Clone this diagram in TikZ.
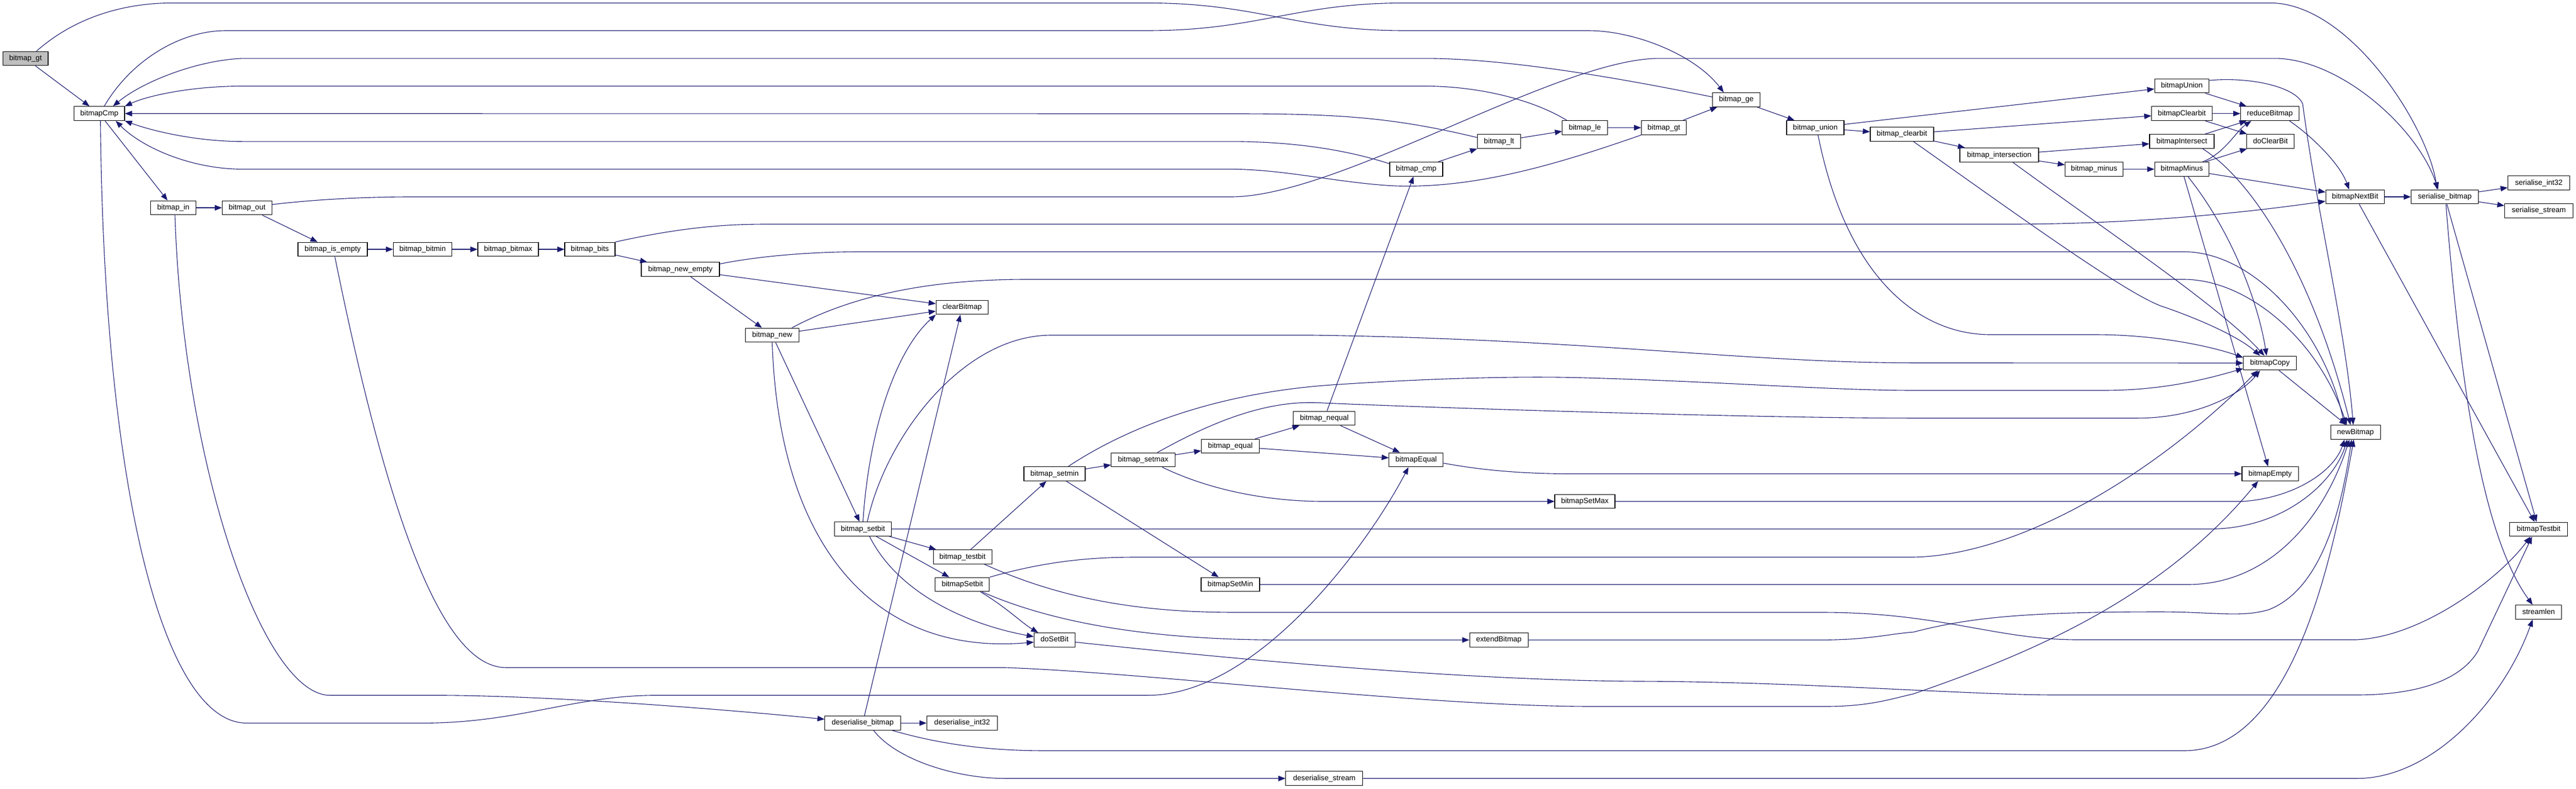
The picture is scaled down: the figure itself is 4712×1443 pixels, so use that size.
\documentclass[tikz,border=0pt]{standalone}
\usepackage{fontspec}
\setmainfont{Liberation Sans}
\usetikzlibrary{arrows.meta}
\definecolor{edgec}{HTML}{191970}
\definecolor{rootfill}{HTML}{BFBFBF}
\begin{document}
\begin{tikzpicture}[x=1pt,y=-1pt,
  fn/.style={draw=black, fill=white, line width=1.1pt, inner sep=0pt, minimum height=25.8pt, text height=10pt, text depth=3pt, font=\fontsize{13.6pt}{16pt}\selectfont},
  cedge/.style={draw=edgec, line width=1.1pt, -{Triangle[length=13pt,width=10pt]}}]
\useasboundingbox (0,0) rectangle (4712,1443);
% nodes
\node[fn, minimum width=82.6pt, fill=rootfill] (gtroot) at (46.7,107) {bitmap\_gt};
\node[fn, minimum width=92.5pt] (cmp) at (181.7,207.7) {bitmapCmp};
\node[fn, minimum width=82.7pt] (bin) at (317,380) {bitmap\_in};
\node[fn, minimum width=91pt] (bout) at (452,380) {bitmap\_out};
\node[fn, minimum width=127pt] (isempty) at (608.5,456) {bitmap\_is\_empty};
\node[fn, minimum width=107pt] (bitmin) at (773,456) {bitmap\_bitmin};
\node[fn, minimum width=111pt] (bitmax) at (929.5,456) {bitmap\_bitmax};
\node[fn, minimum width=92pt] (bits) at (1079,456) {bitmap\_bits};
\node[fn, minimum width=143pt] (newempty) at (1244.5,492.7) {bitmap\_new\_empty};
\node[fn, minimum width=95.5pt] (clearbm) at (1760,562) {clearBitmap};
\node[fn, minimum width=98pt] (bnew) at (1412.5,613) {bitmap\_new};
\node[fn, minimum width=104pt] (setbit) at (1578.5,967.5) {bitmap\_setbit};
\node[fn, minimum width=107pt] (testbit) at (1760.6,1018.5) {bitmap\_testbit};
\node[fn, minimum width=99pt] (bmSetbit) at (1760.4,1069) {bitmapSetbit};
\node[fn, minimum width=75pt] (dosetbit) at (1929,1170.4) {doSetBit};
\node[fn, minimum width=112pt] (setmin) at (1929,866.5) {bitmap\_setmin};
\node[fn, minimum width=116.5pt] (setmax) at (2091,841) {bitmap\_setmax};
\node[fn, minimum width=105.6pt] (equal) at (2250.5,816) {bitmap\_equal};
\node[fn, minimum width=107pt] (bmSetMin) at (2250.5,1069) {bitmapSetMin};
\node[fn, minimum width=138.4pt] (deser) at (1578,1322.4) {deserialise\_bitmap};
\node[fn, minimum width=129.4pt] (deserint) at (1760,1322.4) {deserialise\_int32};
\node[fn, minimum width=113pt] (nequal) at (2422.4,765) {bitmap\_nequal};
\node[fn, minimum width=99pt] (bmEqual) at (2590.4,841) {bitmapEqual};
\node[fn, minimum width=110pt] (bmSetMax) at (2899,917) {bitmapSetMax};
\node[fn, minimum width=107pt] (extend) at (2741.6,1170.4) {extendBitmap};
\node[fn, minimum width=141pt] (deserstream) at (2422.4,1423.7) {deserialise\_stream};
\node[fn, minimum width=86.5pt] (ge) at (3176,182.4) {bitmap\_ge};
\node[fn, minimum width=82.5pt] (le) at (2899,233.5) {bitmap\_le};
\node[fn, minimum width=82pt] (gt2) at (3043.5,233.5) {bitmap\_gt};
\node[fn, minimum width=79pt] (lt) at (2742,258.5) {bitmap\_lt};
\node[fn, minimum width=97pt] (bcmp) at (2590.5,309.4) {bitmap\_cmp};
\node[fn, minimum width=105pt] (union) at (3320.5,233.5) {bitmap\_union};
\node[fn, minimum width=116pt] (clearbit) at (3479,245.4) {bitmap\_clearbit};
\node[fn, minimum width=99.6pt] (bmUnion) at (3991,157) {bitmapUnion};
\node[fn, minimum width=110.5pt] (bmClearbit) at (3991,207.7) {bitmapClearbit};
\node[fn, minimum width=106.7pt] (reduce) at (4152,207.7) {reduceBitmap};
\node[fn, minimum width=118pt] (bmIntersect) at (3991,258.5) {bitmapIntersect};
\node[fn, minimum width=87.5pt] (doclear) at (4153,258.5) {doClearBit};
\node[fn, minimum width=144pt] (intersection) at (3657,283.6) {bitmap\_intersection};
\node[fn, minimum width=106pt] (minus) at (3830.5,309.4) {bitmap\_minus};
\node[fn, minimum width=99.6pt] (bmMinus) at (3991,309.4) {bitmapMinus};
\node[fn, minimum width=107.6pt] (nextbit) at (4308,360) {bitmapNextBit};
\node[fn, minimum width=123pt] (serbm) at (4472,360) {serialise\_bitmap};
\node[fn, minimum width=113pt] (serint) at (4644,334.8) {serialise\_int32};
\node[fn, minimum width=125pt] (serstream) at (4644,385.4) {serialise\_stream};
\node[fn, minimum width=96.6pt] (bmCopy) at (4152,664) {bitmapCopy};
\node[fn, minimum width=91pt] (newbm) at (4308.5,790.5) {newBitmap};
\node[fn, minimum width=103pt] (bmEmpty) at (4152.5,866.5) {bitmapEmpty};
\node[fn, minimum width=106pt] (bmTestbit) at (4643.6,968) {bitmapTestbit};
\node[fn, minimum width=84pt] (streamlen) at (4643.6,1119.5) {streamlen};
% edges
\draw[cedge] (gtroot) -- (cmp);
\draw[cedge] ([xshift=20pt]gtroot.north) .. controls (150,20) and (250,5.5) .. (314,5.5) -- (2099,5.5) .. controls (2300,5.5) and (2370,56) .. (2568,56) -- (2905,56) .. controls (2990,56) and (3100,100) .. ([xshift=-23pt]ge.north);
\draw[cedge] ([xshift=9pt]cmp.north) .. controls (240,110) and (330,56) .. (413,56) -- (2099,56) .. controls (2300,56) and (2370,5.5) .. (2568,5.5) -- (4157,5.5) .. controls (4300,10) and (4440,230) .. ([xshift=-14pt]serbm.north);
\draw[cedge] ([yshift=5pt]ge.west) .. controls (2950,140) and (2750,106.8) .. (2606,106.8) -- (444,106.8) .. controls (360,110) and (260,150) .. ([xshift=25pt]cmp.north);
\draw[cedge] ([xshift=-33pt]le.north) .. controls (2800,180) and (2700,157.5) .. (2606,157.5) -- (444,157.5) .. controls (350,157.5) and (270,175) .. (cmp.north east);
\draw[cedge] ([yshift=7pt]lt.west) .. controls (2550,215) and (2450,208) .. (2260,208) -- (cmp.east);
\draw[cedge] ([yshift=10pt]bcmp.west) .. controls (2450,270) and (2350,258.8) .. (2250,258.8) -- (444,258.8) .. controls (360,258.8) and (280,240) .. (cmp.south east);
\draw[cedge] (gt2.south west) .. controls (2850,300) and (2700,345) .. (2552,340) .. controls (2450,335) and (2350,309.4) .. (2250,309.4) -- (444,309.4) .. controls (350,309.4) and (260,270) .. ([xshift=30pt]cmp.south);
\draw[cedge] (cmp) -- (bin);
\draw[cedge] (bin) -- (bout);
\draw[cedge] (bout) -- (isempty);
\draw[cedge] ([yshift=6pt]bout.east) .. controls (600,362) and (700,360) .. (750,360) -- (2252,360) .. controls (2450,360) and (2850,106.8) .. (3035,106.8) -- (4165,106.8) .. controls (4280,110) and (4420,230) .. ([xshift=-12pt]serbm.north);
\draw[cedge] (isempty) -- (bitmin);
\draw[cedge] (bitmin) -- (bitmax);
\draw[cedge] (bitmax) -- (bits);
\draw[cedge] (bits.north east) .. controls (1250,415) and (1330,410) .. (1402,410) -- (3678,410) .. controls (3900,410) and (4100,390) .. ([yshift=-8pt]nextbit.west);
\draw[cedge] (bits) -- (newempty);
\draw[cedge] (newempty) -- (clearbm);
\draw[cedge] (newempty) -- (bnew);
\draw[cedge] ([yshift=10pt]newempty.east) .. controls (1400,466) and (1500,460.5) .. (1571,460.5) -- (3995,460.5) .. controls (4120,460.5) and (4250,600) .. ([xshift=-20pt]newbm.north);
\draw[cedge] (bnew) -- (clearbm);
\draw[cedge] ([xshift=36pt]bnew.north) .. controls (1560,540) and (1700,511) .. (1877,511) -- (3995,511) .. controls (4110,511) and (4240,620) .. ([xshift=-16pt]newbm.north);
\draw[cedge] (bnew) -- (setbit);
\draw[cedge] (bnew.south) .. controls (1425,1000) and (1600,1200) .. ([yshift=-4pt]dosetbit.west);
\draw[cedge] (setbit.north) .. controls (1590,780) and (1640,640) .. (clearbm.south west);
\draw[cedge] ([xshift=8pt]setbit.north) .. controls (1620,800) and (1760,613) .. (1923,613) -- (2400,613) .. controls (2900,620) and (3200,663.7) .. (3500,663.7) -- (bmCopy.west);
\draw[cedge] (setbit.east) -- (4041,967.5) .. controls (4180,967.5) and (4270,880) .. ([xshift=-15pt]newbm.south);
\draw[cedge] (setbit) -- (testbit);
\draw[cedge] (setbit) -- (bmSetbit);
\draw[cedge] ([xshift=12pt]setbit.south) .. controls (1640,1080) and (1760,1140) .. ([yshift=6pt]dosetbit.west);
\draw[cedge] (testbit) -- (setmin);
\draw[cedge] ([xshift=40pt]testbit.south) .. controls (1950,1100) and (2100,1120) .. (2260,1120) -- (3333,1120) .. controls (3550,1120) and (3650,1170) .. (3800,1170) -- (4310,1170) .. controls (4430,1165) and (4570,1060) .. ([xshift=-15pt]bmTestbit.south);
\draw[cedge] ([xshift=50pt]bmSetbit.north) .. controls (1900,1030) and (1980,1019) .. (2076,1019) -- (3500,1019) .. controls (3700,1015) and (3950,860) .. ([xshift=-22pt]bmCopy.south);
\draw[cedge] ([xshift=33pt]bmSetbit.south) .. controls (1840,1110) and (1870,1140) .. ([xshift=-30pt]dosetbit.north);
\draw[cedge] ([xshift=36pt]bmSetbit.south) .. controls (1950,1150) and (2150,1170.4) .. (2344,1170.4) -- (extend.west);
\draw[cedge] ([yshift=-4pt]dosetbit.east) .. controls (2300,1210) and (2700,1245) .. (3000,1246) .. controls (3300,1247) and (3600,1271) .. (3760,1271) -- (4310,1271) .. controls (4450,1271) and (4510,1230) .. (4533,1190) -- ([xshift=-12pt]bmTestbit.south);
\draw[cedge] ([xshift=3pt]bin.south) .. controls (335,850) and (480,1271.7) .. (604,1271.7) -- (800,1271.7) .. controls (1000,1272) and (1300,1295) .. ([yshift=7pt]deser.west);
\draw[cedge] ([xshift=2pt]cmp.south) .. controls (190,900) and (300,1322.4) .. (451,1322.4) -- (773,1322.4) .. controls (950,1322.4) and (1050,1271.7) .. (1200,1271.7) -- (2099,1271.7) .. controls (2300,1271.7) and (2500,1000) .. ([xshift=-14pt]bmEqual.south);
\draw[cedge] ([xshift=4pt]isempty.south) .. controls (720,1000) and (820,1221) .. (926,1221) -- (1839,1221) .. controls (2100,1230) and (2600,1292) .. (2912,1292) -- (3340,1292) .. controls (3420,1292) and (3460,1278) .. (3500,1269) .. controls (3700,1200) and (3950,1100) .. ([xshift=-22pt]bmEmpty.south);
\draw[cedge] (deser) -- (deserint);
\draw[cedge] ([xshift=54pt]deser.south) .. controls (1750,1370) and (1850,1373) .. (1915,1373) -- (3995,1373) .. controls (4200,1373) and (4270,1000) .. ([xshift=-3pt]newbm.south);
\draw[cedge] ([xshift=20pt]deser.south) .. controls (1640,1390) and (1750,1423.7) .. (1839,1423.7) -- (deserstream.west);
\draw[cedge] (deserstream.east) -- (4311,1423.7) .. controls (4450,1423.7) and (4580,1280) .. ([xshift=-11pt]streamlen.south);
\draw[cedge] (deser) -- (clearbm);
\draw[cedge] (setmin) -- (setmax);
\draw[cedge] (setmin) -- (bmSetMin);
\draw[cedge] ([xshift=25pt]setmin.north) .. controls (2080,770) and (2250,715) .. (2450,703) .. controls (2650,690) and (2800,688) .. (2900,691) .. controls (3150,698) and (3350,714) .. (3500,714) -- (3848,714) .. controls (3960,714) and (4040,692) .. ([yshift=-10pt]bmCopy.west);
\draw[cedge] ([xshift=26pt]setmax.north) .. controls (2220,770) and (2320,730) .. (2420,737) .. controls (2600,745) and (3200,764.7) .. (3500,764.7) -- (3910,764.7) .. controls (4020,764.7) and (4100,720) .. ([xshift=-18pt]bmCopy.south);
\draw[cedge] (setmax) -- (equal);
\draw[cedge] ([xshift=35pt]setmax.south) .. controls (2220,900) and (2330,917) .. (2420,917) -- (bmSetMax.west);
\draw[cedge] (equal) -- (nequal);
\draw[cedge] (equal) -- (bmEqual);
\draw[cedge] (nequal) -- (bmEqual);
\draw[cedge] (nequal) -- (bcmp);
\draw[cedge] ([yshift=-6pt]bmEqual.east) .. controls (2720,862) and (2800,866.5) .. (2874,866.5) -- (bmEmpty.west);
\draw[cedge] (bmSetMax.east) -- (4103,917) .. controls (4200,910) and (4270,860) .. ([xshift=-20pt]newbm.south);
\draw[cedge] (bmSetMin.east) -- (4002,1069) .. controls (4150,1069) and (4250,950) .. ([xshift=-11pt]newbm.south);
\draw[cedge] (extend.east) -- (3333,1170.4) .. controls (3420,1170) and (3450,1160) .. (3500,1156) .. controls (3600,1130) and (3700,1119) .. (3950,1119) .. controls (4050,1119) and (4100,1130) .. (4150,1115) .. controls (4240,1080) and (4280,950) .. ([xshift=-7pt]newbm.south);
\draw[cedge] (bcmp) -- (lt);
\draw[cedge] (lt) -- (le);
\draw[cedge] (le) -- (gt2);
\draw[cedge] (gt2) -- (ge);
\draw[cedge] (ge) -- (union);
\draw[cedge] (union) -- (clearbit);
\draw[cedge] (clearbit) -- (intersection);
\draw[cedge] (intersection) -- (minus);
\draw[cedge] (minus) -- (bmMinus);
\draw[cedge] (union) -- (bmUnion);
\draw[cedge] (clearbit) -- (bmClearbit);
\draw[cedge] (intersection) -- (bmIntersect);
\draw[cedge] ([xshift=5pt]union.south) .. controls (3380,520) and (3520,612) .. (3640,612) -- (3832,612) .. controls (3950,612) and (4050,635) .. ([yshift=10pt]bmCopy.west);
\draw[cedge] ([xshift=21pt]clearbit.south) .. controls (3700,400) and (3900,545) .. (3960,562) .. controls (4040,590) and (4100,620) .. ([xshift=-18pt]bmCopy.north);
\draw[cedge] ([xshift=25pt]intersection.south) .. controls (3850,420) and (4060,560) .. ([xshift=-10pt]bmCopy.north);
\draw[cedge] (bmUnion) -- (reduce);
\draw[cedge] ([yshift=10pt]bmUnion.east) .. controls (4120,140) and (4200,160) .. (4212,190) .. controls (4240,400) and (4290,600) .. ([xshift=-4pt]newbm.north);
\draw[cedge] (bmClearbit) -- (reduce);
\draw[cedge] (bmClearbit) -- (doclear);
\draw[cedge] (bmIntersect) -- (reduce);
\draw[cedge] ([xshift=38pt]bmIntersect.south) .. controls (4120,330) and (4230,500) .. ([xshift=-9pt]newbm.north);
\draw[cedge] ([xshift=38pt]bmMinus.north) .. controls (4070,280) and (4090,240) .. ([xshift=-34pt]reduce.south);
\draw[cedge] (bmMinus) -- (doclear);
\draw[cedge] (bmMinus) -- (nextbit);
\draw[cedge] ([xshift=11pt]bmMinus.south) .. controls (4080,420) and (4130,550) .. ([xshift=-6pt]bmCopy.north);
\draw[cedge] (bmMinus) -- (bmEmpty);
\draw[cedge] ([xshift=36pt]reduce.south) .. controls (4230,250) and (4280,300) .. ([xshift=-11pt]nextbit.north);
\draw[cedge] (nextbit) -- (serbm);
\draw[cedge] (nextbit) -- (bmTestbit);
\draw[cedge] (serbm) -- (serint);
\draw[cedge] (serbm) -- (serstream);
\draw[cedge] (serbm) -- (bmTestbit);
\draw[cedge] ([xshift=2pt]serbm.south) .. controls (4500,700) and (4540,980) .. ([xshift=-11pt]streamlen.north);
\draw[cedge] (bmCopy) -- (newbm);
\end{tikzpicture}
\end{document}
